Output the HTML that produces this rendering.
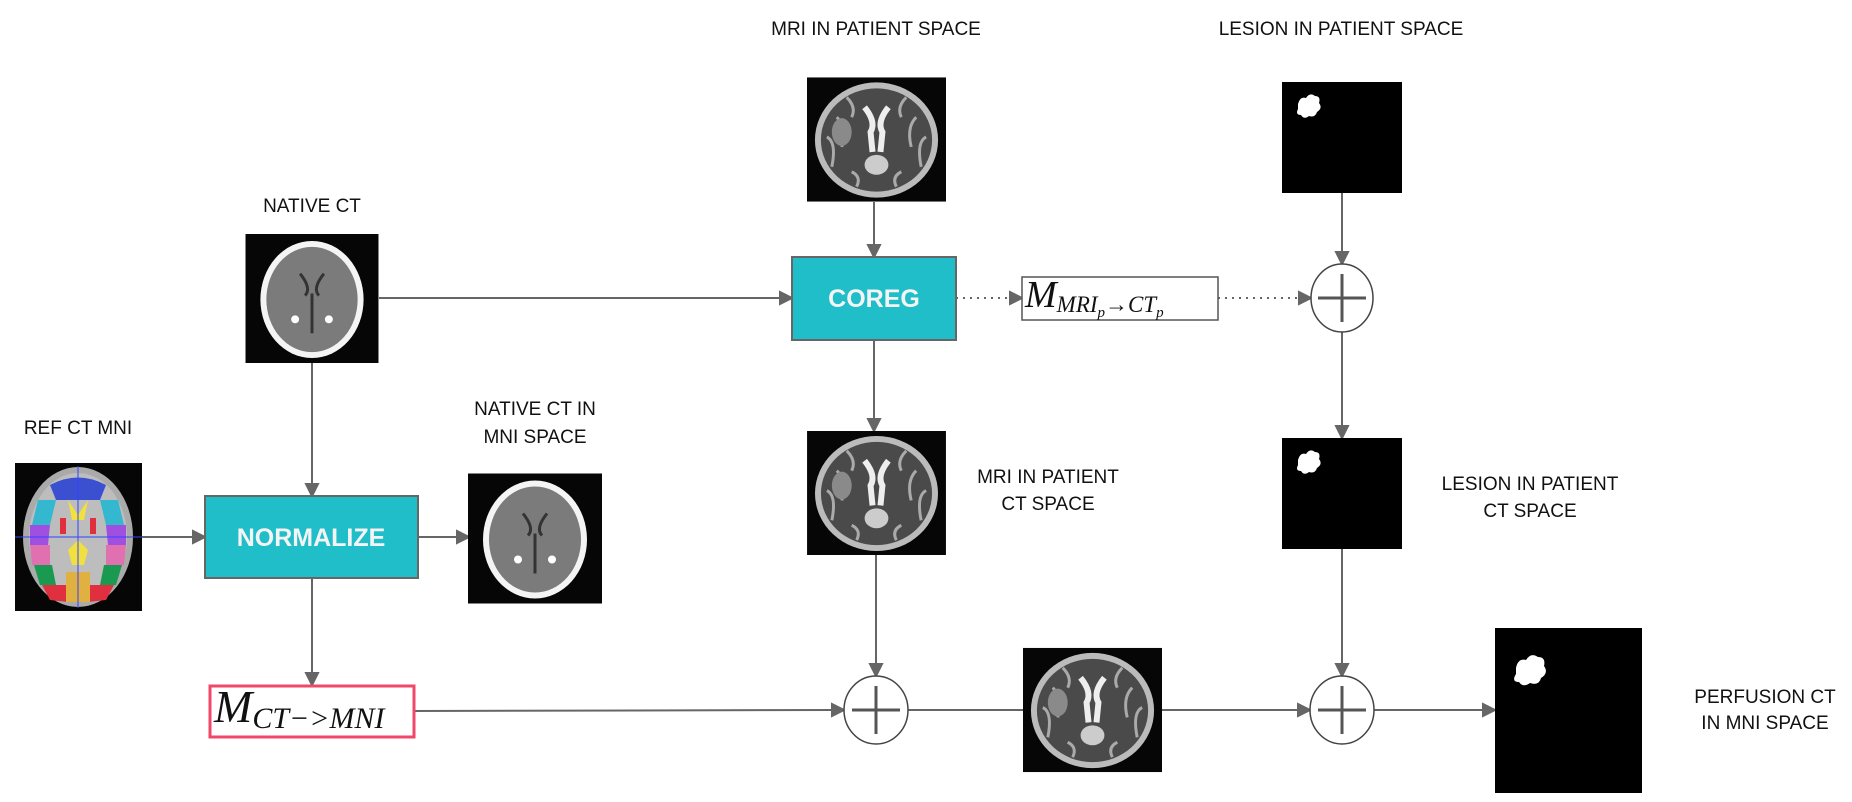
<!DOCTYPE html>
<html><head><meta charset="utf-8"><style>
html,body{margin:0;padding:0;background:#fff;}
svg{display:block;}
.lbl{font-family:"Liberation Sans",sans-serif;font-size:19px;fill:#111;text-anchor:middle;}
.box{font-family:"Liberation Sans",sans-serif;font-size:25px;font-weight:bold;fill:#f4f4f4;text-anchor:middle;}
.math{font-family:"Liberation Serif",serif;font-style:italic;fill:#111;}
</style></head><body>
<svg width="1852" height="802" viewBox="0 0 1852 802" xmlns="http://www.w3.org/2000/svg">
<defs>
<symbol id="ct" viewBox="0 0 134 130">
<rect width="134" height="130" fill="#060606"/>
<ellipse cx="67" cy="66" rx="52" ry="59" fill="#f4f4f4"/>
<ellipse cx="67" cy="66" rx="46" ry="53" fill="#7b7b7b"/>
<path d="M55 40 Q67 55 60 62 M79 40 Q67 55 74 62 M67 60 L67 100" stroke="#333" stroke-width="3" fill="none"/>
<circle cx="50" cy="86" r="4" fill="#fff"/><circle cx="84" cy="86" r="4" fill="#fff"/>
</symbol>
<symbol id="mri" viewBox="0 0 140 125">
<rect width="140" height="125" fill="#060606"/>
<ellipse cx="70" cy="63" rx="62" ry="58" fill="#bbb"/>
<ellipse cx="70" cy="63" rx="56" ry="52" fill="#4a4a4a"/>
<path d="M30 40 Q40 50 35 70 M110 40 Q100 50 105 70 M20 60 Q30 65 25 90 M120 60 Q110 65 115 90 M40 20 Q50 30 45 40 M100 20 Q90 30 95 40 M45 95 Q55 100 50 110 M95 95 Q85 100 90 110" stroke="#aaa" stroke-width="3" fill="none"/>
<path d="M58 30 Q70 45 64 55 L66 75 M82 30 Q70 45 76 55 L74 75" stroke="#eee" stroke-width="6" fill="none"/>
<ellipse cx="70" cy="88" rx="12" ry="10" fill="#ccc"/>
<ellipse cx="35" cy="55" rx="10" ry="14" fill="#8a8a8a"/>
</symbol>
<symbol id="les" viewBox="0 0 120 111">
<rect width="120" height="111" fill="#000"/>
<path d="M16 22 q2-8 8-6 q4-6 9-2 q6 0 4 7 q4 5-2 9 q-2 6-8 4 q-5 4-8-1 q-6 0-3-6z" fill="#fff"/>
</symbol>
</defs>

<g stroke="#666" stroke-width="2" fill="#666">
<line x1="379" y1="298" x2="781" y2="298"/><polygon points="792,298 780,292 780,304"/>
<line x1="312" y1="363" x2="312" y2="485"/><polygon points="312,496 306,484 318,484"/>
<line x1="142" y1="537" x2="193" y2="537"/><polygon points="205,537 193,531 193,543"/>
<line x1="418" y1="537" x2="457" y2="537"/><polygon points="469,537 457,531 457,543"/>
<line x1="312" y1="578" x2="312" y2="674"/><polygon points="312,685 306,673 318,673"/>
<line x1="414" y1="711" x2="833" y2="710"/><polygon points="844,710 832,704 832,716"/>
<line x1="874" y1="202" x2="874" y2="246"/><polygon points="874,257 868,245 880,245"/>
<line x1="874" y1="340" x2="874" y2="420"/><polygon points="874,431 868,419 880,419"/>
<line x1="876" y1="555" x2="876" y2="665"/><polygon points="876,676 870,664 882,664"/>
<line x1="908" y1="710" x2="1023" y2="710"/>
<line x1="1162" y1="710" x2="1299" y2="710"/><polygon points="1310,710 1298,704 1298,716"/>
<line x1="1374" y1="710" x2="1484" y2="710"/><polygon points="1495,710 1483,704 1483,716"/>
<line x1="1342" y1="193" x2="1342" y2="253"/><polygon points="1342,264 1336,252 1348,252"/>
<line x1="1342" y1="332" x2="1342" y2="427"/><polygon points="1342,438 1336,426 1348,426"/>
<line x1="1342" y1="549" x2="1342" y2="665"/><polygon points="1342,676 1336,664 1348,664"/>
<line x1="956" y1="298" x2="1010" y2="298" stroke-dasharray="2,5"/><polygon points="1022,298 1010,292 1010,304"/>
<line x1="1218" y1="298" x2="1300" y2="298" stroke-dasharray="2,5"/><polygon points="1311,298 1299,292 1299,304"/>
</g>

<g stroke="#444" stroke-width="1.5" fill="#fff">
<ellipse cx="876" cy="710" rx="32" ry="34"/>
<ellipse cx="1342" cy="298" rx="31" ry="34"/>
<ellipse cx="1342" cy="710" rx="32" ry="34"/>
</g>
<g stroke="#555" stroke-width="3">
<line x1="852" y1="710" x2="900" y2="710"/><line x1="876" y1="686" x2="876" y2="734"/>
<line x1="1318" y1="298" x2="1366" y2="298"/><line x1="1342" y1="274" x2="1342" y2="322"/>
<line x1="1318" y1="710" x2="1366" y2="710"/><line x1="1342" y1="686" x2="1342" y2="734"/>
</g>

<rect x="205" y="496" width="213" height="82" fill="#1fbec8" stroke="#666" stroke-width="2"/>
<text class="box" x="311" y="546">NORMALIZE</text>
<rect x="792" y="257" width="164" height="83" fill="#1fbec8" stroke="#666" stroke-width="2"/>
<text class="box" x="874" y="307">COREG</text>
<rect x="210" y="686" width="204" height="51" fill="#fff" stroke="#f0476a" stroke-width="3"/>
<text class="math" x="214" y="722" font-size="46">M<tspan font-size="30" dy="6">CT−&gt;MNI</tspan></text>
<rect x="1022" y="277" width="196" height="43" fill="#fff" stroke="#555" stroke-width="1.5"/>
<text class="math" x="1025" y="307" font-size="38" fill="#444">M<tspan font-size="23" dy="5">MRI</tspan><tspan font-size="15" dy="5">p</tspan><tspan font-size="23" dy="-5">→CT</tspan><tspan font-size="15" dy="5">p</tspan></text>

<use href="#ct" x="245" y="234" width="134" height="129"/>
<use href="#ct" x="468" y="466" width="134" height="145"/>
<g>
<rect x="15" y="463" width="127" height="148" fill="#060606"/>
<ellipse cx="78" cy="537" rx="55" ry="70" fill="#aaa"/>
<ellipse cx="78" cy="537" rx="49" ry="64" fill="#bdbdbd"/>
<path d="M50 485 Q78 470 106 485 L100 500 L56 500z" fill="#3a50d0"/>
<path d="M38 500 L56 500 L50 525 L32 525z M118 500 L100 500 L106 525 L124 525z" fill="#33b8d0"/>
<path d="M30 525 L50 525 L48 545 L30 545z M126 525 L106 525 L108 545 L126 545z" fill="#a050e0"/>
<path d="M30 545 L50 545 L50 565 L32 565z M126 545 L106 545 L106 565 L124 565z" fill="#e070b0"/>
<path d="M34 565 L52 565 L56 585 L40 585z M122 565 L104 565 L100 585 L116 585z" fill="#1a9a50"/>
<path d="M42 585 L66 585 L68 602 L50 600z M114 585 L90 585 L88 602 L106 600z" fill="#e03040"/>
<rect x="66" y="572" width="24" height="30" fill="#e0b040"/>
<path d="M68 500 L78 515 L88 500 L84 520 L72 520z" fill="#f0e040"/>
<path d="M68 550 L78 540 L88 550 L84 565 L72 565z" fill="#f0e040"/>
<rect x="60" y="518" width="6" height="16" fill="#e03040"/><rect x="90" y="518" width="6" height="16" fill="#e03040"/>
<line x1="15" y1="537" x2="142" y2="537" stroke="#3344ff" stroke-width="1"/>
<line x1="78" y1="466" x2="78" y2="608" stroke="#3344ff" stroke-width="1"/>
</g>
<use href="#mri" x="807" y="77" width="139" height="125"/>
<use href="#mri" x="807" y="431" width="139" height="124"/>
<use href="#mri" x="1023" y="633" width="139" height="154" preserveAspectRatio="none"/>
<use href="#les" x="1282" y="82" width="120" height="111"/>
<use href="#les" x="1282" y="438" width="120" height="111"/>
<g>
<rect x="1495" y="628" width="147" height="165" fill="#000"/>
<path d="M1516 668 q2-10 10-8 q5-8 12-3 q8 0 6 9 q5 7-3 12 q-2 8-11 5 q-7 5-11-1 q-8 0-3-8z" fill="#fff"/>
</g>

<text class="lbl" x="312" y="212">NATIVE CT</text>
<text class="lbl" x="78" y="434">REF CT  MNI</text>
<text class="lbl" x="535" y="415">NATIVE CT IN</text>
<text class="lbl" x="535" y="443">MNI SPACE</text>
<text class="lbl" x="876" y="35">MRI IN PATIENT SPACE</text>
<text class="lbl" x="1341" y="35">LESION IN PATIENT SPACE</text>
<text class="lbl" x="1048" y="483">MRI IN PATIENT</text>
<text class="lbl" x="1048" y="510">CT SPACE</text>
<text class="lbl" x="1530" y="490">LESION IN PATIENT</text>
<text class="lbl" x="1530" y="517">CT SPACE</text>
<text class="lbl" x="1765" y="703">PERFUSION CT</text>
<text class="lbl" x="1765" y="729">IN MNI SPACE</text>
</svg>
</body></html>
